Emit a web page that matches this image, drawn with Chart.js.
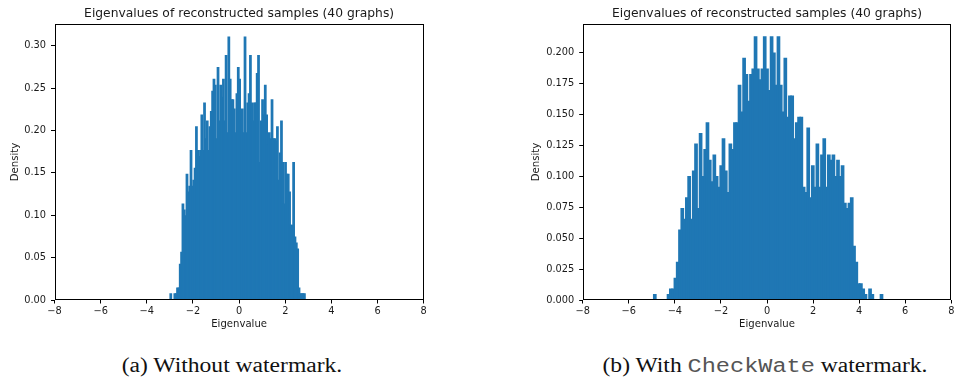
<!DOCTYPE html>
<html>
<head>
<meta charset="utf-8">
<script src="https://cdn.jsdelivr.net/npm/chart.js@4.4.1/dist/chart.umd.min.js"></script>
<style>
  html, body { margin: 0; padding: 0; background: #fff; }
  body { width: 954px; height: 382px; position: relative; overflow: hidden; }
  canvas { position: absolute; top: 0; }
  .caption {
    position: absolute; top: 355px; white-space: nowrap;
    font-family: "Liberation Serif", "Times New Roman", serif; font-size: 20.5px; line-height: 20.5px;
    color: #111; transform: translateX(-50%) scaleX(1.15); transform-origin: center;
  }
  .mono { font-family: "Liberation Mono", "Courier New", monospace; font-size: 20.5px; color: #555; }
</style>
</head>
<body>
<canvas id="chartA" width="477" height="340" style="left:0"></canvas>
<canvas id="chartB" width="477" height="340" style="left:477px"></canvas>
<div class="caption" style="left:232px">(a) Without watermark.</div>
<div class="caption" style="left:765px">(b) With <span class="mono">CheckWate</span> watermark.</div>

<script>
// histogram bins (100 each): left edge of first bin and bin width
const binsA = { start: -2.99, width: 0.0585 };
const binsB = { start: -4.92, width: 0.0994 };

// densities, one per bin
const densityA = [
  0.007, 0, 0, 0.007, 0.007, 0.014, 0.014, 0.042, 0.056, 0.113,
  0.106, 0.099, 0.148, 0.127, 0.134, 0.176, 0.134, 0.141, 0.155, 0.204,
  0.176, 0.169, 0.176, 0.218, 0.176, 0.232, 0.190, 0.211, 0.176, 0.204,
  0.222, 0.246, 0.260, 0.253, 0.190, 0.274, 0.211, 0.253, 0.239, 0.260,
  0.211, 0.288, 0.197, 0.310, 0.260, 0.236, 0.236, 0.225, 0.197, 0.243,
  0.274, 0.260, 0.211, 0.225, 0.197, 0.310, 0.197, 0.232, 0.243, 0.288,
  0.232, 0.211, 0.232, 0.232, 0.267, 0.288, 0.162, 0.211, 0.236, 0.218,
  0.253, 0.218, 0.183, 0.197, 0.190, 0.236, 0.190, 0.190, 0.187, 0.204,
  0.141, 0.173, 0.211, 0.162, 0.113, 0.162, 0.148, 0.148, 0.127, 0.088,
  0.088, 0.162, 0.074, 0.067, 0.060, 0.014, 0.007, 0.007, 0.007, 0.007
];
const densityB = [
  0.0043, 0, 0, 0, 0, 0, 0.0043, 0.0087, 0.0087, 0.0174,
  0.0304, 0.0564, 0.0738, 0.0651, 0.0825, 0.0998, 0.0651, 0.1042, 0.1259, 0.0738,
  0.1345, 0.0998, 0.1215, 0.1432, 0.1128, 0.0955, 0.1172, 0.0998, 0.0911, 0.1085,
  0.1302, 0.1042, 0.0868, 0.1259, 0.1215, 0.1432, 0.1432, 0.1736, 0.1519, 0.1953,
  0.1823, 0.1606, 0.1823, 0.1866, 0.2127, 0.1866, 0.1779, 0.1866, 0.2127, 0.1866,
  0.1693, 0.2127, 0.1996, 0.1736, 0.2127, 0.1736, 0.1519, 0.1953, 0.1476, 0.1649,
  0.1649, 0.1302, 0.1432, 0.1476, 0.1476, 0.0911, 0.0868, 0.1389, 0.0825, 0.1085,
  0.0911, 0.1259, 0.0911, 0.1172, 0.1302, 0.0911, 0.1172, 0.1128, 0.1172, 0.0998,
  0.1128, 0.0998, 0.1085, 0.0781, 0.0738, 0.0781, 0.0825, 0.0434, 0.0304, 0.0130,
  0.0130, 0.0087, 0.0043, 0, 0.0087, 0.0043, 0, 0, 0, 0.0043
];

const xTicks = [-8, -6, -4, -2, 0, 2, 4, 6, 8];
const yTicksA = [0, 0.05, 0.10, 0.15, 0.20, 0.25, 0.30];
const yTicksB = [0, 0.025, 0.05, 0.075, 0.10, 0.125, 0.15, 0.175, 0.20];

const TITLE = 'Eigenvalues of reconstructed samples (40 graphs)';
const FONT = 'DejaVu Sans';
const TEXT = '#1a1a1a';
const BAR = '#1f77b4';

// matplotlib-style box around the axes
const spinePlugin = {
  id: 'spines',
  afterDraw(chart) {
    const a = chart.chartArea;
    const c = chart.ctx;
    c.save();
    c.strokeStyle = '#000';
    c.lineWidth = 1;
    const l = Math.round(a.left) + 0.5, t = Math.round(a.top) + 0.5;
    const r = Math.round(a.right) - 0.5, b = Math.round(a.bottom) - 0.5;
    c.strokeRect(l, t, r - l, b - t);
    c.restore();
  }
};

function makeHist(canvasId, bins, density, yTicks, yMax, decimals, cfg) {
  const points = density.map((d, i) => ({ x: bins.start + bins.width * (i + 0.5), y: d }));
  return new Chart(document.getElementById(canvasId), {
    type: 'bar',
    data: {
      datasets: [{
        data: points,
        backgroundColor: BAR,
        borderWidth: 0,
        barPercentage: 1,
        categoryPercentage: 1,
        inflateAmount: 0.7 // hides seams between adjacent bins
      }]
    },
    options: {
      responsive: false,
      animation: false,
      layout: { padding: { left: 0, right: cfg.padRight, top: 0, bottom: 0 } },
      plugins: {
        legend: { display: false },
        tooltip: { enabled: false },
        title: {
          display: true,
          text: TITLE,
          fullSize: false,
          color: TEXT,
          font: { family: FONT, size: 12.3, weight: 'normal' },
          padding: { top: 6, bottom: 3.24 }
        }
      },
      scales: {
        x: {
          type: 'linear',
          min: -8,
          max: 8,
          offset: false,
          afterBuildTicks: (scale) => { scale.ticks = xTicks.map(v => ({ value: v })); },
          afterFit: (scale) => { scale.height = 40; scale.paddingLeft = 0; scale.paddingRight = 0; },
          grid: { display: true, offset: false, drawOnChartArea: false, drawTicks: true, tickLength: 3.5, tickColor: '#000' },
          border: { display: false },
          ticks: {
            autoSkip: false, maxRotation: 0, padding: 2.5, color: TEXT,
            font: { family: FONT, size: 9.8 },
            callback: (v) => v < 0 ? '\u2212' + Math.abs(v) : String(v)
          },
          title: {
            display: true, text: 'Eigenvalue', color: TEXT,
            font: { family: FONT, size: 10.1 }, padding: { top: 0, bottom: 9.2 }
          }
        },
        y: {
          min: 0,
          max: yMax,
          afterBuildTicks: (scale) => { scale.ticks = yTicks.map(v => ({ value: v })); },
          afterFit: (scale) => { scale.width = cfg.yWidth; scale.paddingTop = 0; scale.paddingBottom = 0; },
          grid: { display: true, drawOnChartArea: false, drawTicks: true, tickLength: 3.5, tickColor: '#000' },
          border: { display: false },
          ticks: {
            autoSkip: false, padding: 5, color: TEXT,
            font: { family: FONT, size: 9.8 },
            callback: (v) => v.toFixed(decimals)
          },
          title: {
            display: true, text: 'Density', color: TEXT,
            font: { family: FONT, size: 10.1 }, padding: { top: cfg.yTitlePad, bottom: 0 }
          }
        }
      }
    },
    plugins: [spinePlugin]
  });
}

makeHist('chartA', binsA, densityA, yTicksA, 0.3255, 2, { padRight: 53.3, yWidth: 54.5, yTitlePad: 9.6 });
makeHist('chartB', binsB, densityB, yTicksB, 0.2232, 3, { padRight: 2.7, yWidth: 105.7, yTitlePad: 53 });
</script>
</body>
</html>
